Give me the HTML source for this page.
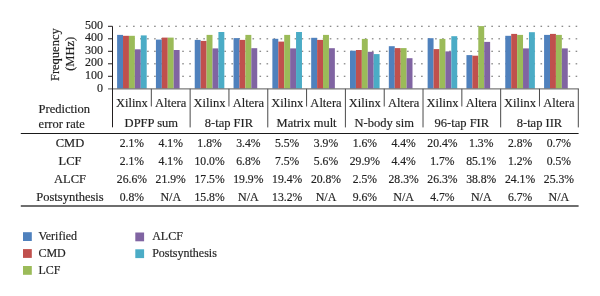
<!DOCTYPE html><html><head><meta charset="utf-8"><style>
html,body{margin:0;padding:0;background:#fff;}
svg{display:block;filter:blur(0.3px);}
text{font-family:"Liberation Serif",serif;font-size:12.5px;fill:#231F20;stroke:#231F20;stroke-width:0.18px;}
.n{font-size:11.7px;}
.na{font-size:12px;}
.y{font-size:12px;}
.lg{font-size:12px;}
</style></head><body>
<svg width="600" height="296" viewBox="0 0 600 296">
<rect width="600" height="296" fill="#fff"/>
<rect x="119.00" y="75.70" width="1.6" height="1.2" fill="#808080"/>
<rect x="126.03" y="75.70" width="1.6" height="1.2" fill="#808080"/>
<rect x="133.05" y="75.70" width="1.6" height="1.2" fill="#808080"/>
<rect x="140.07" y="75.70" width="1.6" height="1.2" fill="#808080"/>
<rect x="147.10" y="75.70" width="1.6" height="1.2" fill="#808080"/>
<rect x="154.12" y="75.70" width="1.6" height="1.2" fill="#808080"/>
<rect x="161.15" y="75.70" width="1.6" height="1.2" fill="#808080"/>
<rect x="168.17" y="75.70" width="1.6" height="1.2" fill="#808080"/>
<rect x="175.20" y="75.70" width="1.6" height="1.2" fill="#808080"/>
<rect x="182.22" y="75.70" width="1.6" height="1.2" fill="#808080"/>
<rect x="189.25" y="75.70" width="1.6" height="1.2" fill="#808080"/>
<rect x="196.27" y="75.70" width="1.6" height="1.2" fill="#808080"/>
<rect x="203.30" y="75.70" width="1.6" height="1.2" fill="#808080"/>
<rect x="210.32" y="75.70" width="1.6" height="1.2" fill="#808080"/>
<rect x="217.35" y="75.70" width="1.6" height="1.2" fill="#808080"/>
<rect x="224.38" y="75.70" width="1.6" height="1.2" fill="#808080"/>
<rect x="231.40" y="75.70" width="1.6" height="1.2" fill="#808080"/>
<rect x="238.43" y="75.70" width="1.6" height="1.2" fill="#808080"/>
<rect x="245.45" y="75.70" width="1.6" height="1.2" fill="#808080"/>
<rect x="252.47" y="75.70" width="1.6" height="1.2" fill="#808080"/>
<rect x="259.50" y="75.70" width="1.6" height="1.2" fill="#808080"/>
<rect x="266.52" y="75.70" width="1.6" height="1.2" fill="#808080"/>
<rect x="273.55" y="75.70" width="1.6" height="1.2" fill="#808080"/>
<rect x="280.57" y="75.70" width="1.6" height="1.2" fill="#808080"/>
<rect x="287.60" y="75.70" width="1.6" height="1.2" fill="#808080"/>
<rect x="294.62" y="75.70" width="1.6" height="1.2" fill="#808080"/>
<rect x="301.65" y="75.70" width="1.6" height="1.2" fill="#808080"/>
<rect x="308.68" y="75.70" width="1.6" height="1.2" fill="#808080"/>
<rect x="315.70" y="75.70" width="1.6" height="1.2" fill="#808080"/>
<rect x="322.73" y="75.70" width="1.6" height="1.2" fill="#808080"/>
<rect x="329.75" y="75.70" width="1.6" height="1.2" fill="#808080"/>
<rect x="336.77" y="75.70" width="1.6" height="1.2" fill="#808080"/>
<rect x="343.80" y="75.70" width="1.6" height="1.2" fill="#808080"/>
<rect x="350.82" y="75.70" width="1.6" height="1.2" fill="#808080"/>
<rect x="357.85" y="75.70" width="1.6" height="1.2" fill="#808080"/>
<rect x="364.88" y="75.70" width="1.6" height="1.2" fill="#808080"/>
<rect x="371.90" y="75.70" width="1.6" height="1.2" fill="#808080"/>
<rect x="378.93" y="75.70" width="1.6" height="1.2" fill="#808080"/>
<rect x="385.95" y="75.70" width="1.6" height="1.2" fill="#808080"/>
<rect x="392.98" y="75.70" width="1.6" height="1.2" fill="#808080"/>
<rect x="400.00" y="75.70" width="1.6" height="1.2" fill="#808080"/>
<rect x="407.03" y="75.70" width="1.6" height="1.2" fill="#808080"/>
<rect x="414.05" y="75.70" width="1.6" height="1.2" fill="#808080"/>
<rect x="421.07" y="75.70" width="1.6" height="1.2" fill="#808080"/>
<rect x="428.10" y="75.70" width="1.6" height="1.2" fill="#808080"/>
<rect x="435.12" y="75.70" width="1.6" height="1.2" fill="#808080"/>
<rect x="442.15" y="75.70" width="1.6" height="1.2" fill="#808080"/>
<rect x="449.18" y="75.70" width="1.6" height="1.2" fill="#808080"/>
<rect x="456.20" y="75.70" width="1.6" height="1.2" fill="#808080"/>
<rect x="463.23" y="75.70" width="1.6" height="1.2" fill="#808080"/>
<rect x="470.25" y="75.70" width="1.6" height="1.2" fill="#808080"/>
<rect x="477.28" y="75.70" width="1.6" height="1.2" fill="#808080"/>
<rect x="484.30" y="75.70" width="1.6" height="1.2" fill="#808080"/>
<rect x="491.33" y="75.70" width="1.6" height="1.2" fill="#808080"/>
<rect x="498.35" y="75.70" width="1.6" height="1.2" fill="#808080"/>
<rect x="505.38" y="75.70" width="1.6" height="1.2" fill="#808080"/>
<rect x="512.40" y="75.70" width="1.6" height="1.2" fill="#808080"/>
<rect x="519.43" y="75.70" width="1.6" height="1.2" fill="#808080"/>
<rect x="526.45" y="75.70" width="1.6" height="1.2" fill="#808080"/>
<rect x="533.48" y="75.70" width="1.6" height="1.2" fill="#808080"/>
<rect x="540.50" y="75.70" width="1.6" height="1.2" fill="#808080"/>
<rect x="547.53" y="75.70" width="1.6" height="1.2" fill="#808080"/>
<rect x="554.55" y="75.70" width="1.6" height="1.2" fill="#808080"/>
<rect x="561.58" y="75.70" width="1.6" height="1.2" fill="#808080"/>
<rect x="568.60" y="75.70" width="1.6" height="1.2" fill="#808080"/>
<rect x="575.62" y="75.70" width="1.6" height="1.2" fill="#808080"/>
<rect x="119.00" y="63.20" width="1.6" height="1.2" fill="#808080"/>
<rect x="126.03" y="63.20" width="1.6" height="1.2" fill="#808080"/>
<rect x="133.05" y="63.20" width="1.6" height="1.2" fill="#808080"/>
<rect x="140.07" y="63.20" width="1.6" height="1.2" fill="#808080"/>
<rect x="147.10" y="63.20" width="1.6" height="1.2" fill="#808080"/>
<rect x="154.12" y="63.20" width="1.6" height="1.2" fill="#808080"/>
<rect x="161.15" y="63.20" width="1.6" height="1.2" fill="#808080"/>
<rect x="168.17" y="63.20" width="1.6" height="1.2" fill="#808080"/>
<rect x="175.20" y="63.20" width="1.6" height="1.2" fill="#808080"/>
<rect x="182.22" y="63.20" width="1.6" height="1.2" fill="#808080"/>
<rect x="189.25" y="63.20" width="1.6" height="1.2" fill="#808080"/>
<rect x="196.27" y="63.20" width="1.6" height="1.2" fill="#808080"/>
<rect x="203.30" y="63.20" width="1.6" height="1.2" fill="#808080"/>
<rect x="210.32" y="63.20" width="1.6" height="1.2" fill="#808080"/>
<rect x="217.35" y="63.20" width="1.6" height="1.2" fill="#808080"/>
<rect x="224.38" y="63.20" width="1.6" height="1.2" fill="#808080"/>
<rect x="231.40" y="63.20" width="1.6" height="1.2" fill="#808080"/>
<rect x="238.43" y="63.20" width="1.6" height="1.2" fill="#808080"/>
<rect x="245.45" y="63.20" width="1.6" height="1.2" fill="#808080"/>
<rect x="252.47" y="63.20" width="1.6" height="1.2" fill="#808080"/>
<rect x="259.50" y="63.20" width="1.6" height="1.2" fill="#808080"/>
<rect x="266.52" y="63.20" width="1.6" height="1.2" fill="#808080"/>
<rect x="273.55" y="63.20" width="1.6" height="1.2" fill="#808080"/>
<rect x="280.57" y="63.20" width="1.6" height="1.2" fill="#808080"/>
<rect x="287.60" y="63.20" width="1.6" height="1.2" fill="#808080"/>
<rect x="294.62" y="63.20" width="1.6" height="1.2" fill="#808080"/>
<rect x="301.65" y="63.20" width="1.6" height="1.2" fill="#808080"/>
<rect x="308.68" y="63.20" width="1.6" height="1.2" fill="#808080"/>
<rect x="315.70" y="63.20" width="1.6" height="1.2" fill="#808080"/>
<rect x="322.73" y="63.20" width="1.6" height="1.2" fill="#808080"/>
<rect x="329.75" y="63.20" width="1.6" height="1.2" fill="#808080"/>
<rect x="336.77" y="63.20" width="1.6" height="1.2" fill="#808080"/>
<rect x="343.80" y="63.20" width="1.6" height="1.2" fill="#808080"/>
<rect x="350.82" y="63.20" width="1.6" height="1.2" fill="#808080"/>
<rect x="357.85" y="63.20" width="1.6" height="1.2" fill="#808080"/>
<rect x="364.88" y="63.20" width="1.6" height="1.2" fill="#808080"/>
<rect x="371.90" y="63.20" width="1.6" height="1.2" fill="#808080"/>
<rect x="378.93" y="63.20" width="1.6" height="1.2" fill="#808080"/>
<rect x="385.95" y="63.20" width="1.6" height="1.2" fill="#808080"/>
<rect x="392.98" y="63.20" width="1.6" height="1.2" fill="#808080"/>
<rect x="400.00" y="63.20" width="1.6" height="1.2" fill="#808080"/>
<rect x="407.03" y="63.20" width="1.6" height="1.2" fill="#808080"/>
<rect x="414.05" y="63.20" width="1.6" height="1.2" fill="#808080"/>
<rect x="421.07" y="63.20" width="1.6" height="1.2" fill="#808080"/>
<rect x="428.10" y="63.20" width="1.6" height="1.2" fill="#808080"/>
<rect x="435.12" y="63.20" width="1.6" height="1.2" fill="#808080"/>
<rect x="442.15" y="63.20" width="1.6" height="1.2" fill="#808080"/>
<rect x="449.18" y="63.20" width="1.6" height="1.2" fill="#808080"/>
<rect x="456.20" y="63.20" width="1.6" height="1.2" fill="#808080"/>
<rect x="463.23" y="63.20" width="1.6" height="1.2" fill="#808080"/>
<rect x="470.25" y="63.20" width="1.6" height="1.2" fill="#808080"/>
<rect x="477.28" y="63.20" width="1.6" height="1.2" fill="#808080"/>
<rect x="484.30" y="63.20" width="1.6" height="1.2" fill="#808080"/>
<rect x="491.33" y="63.20" width="1.6" height="1.2" fill="#808080"/>
<rect x="498.35" y="63.20" width="1.6" height="1.2" fill="#808080"/>
<rect x="505.38" y="63.20" width="1.6" height="1.2" fill="#808080"/>
<rect x="512.40" y="63.20" width="1.6" height="1.2" fill="#808080"/>
<rect x="519.43" y="63.20" width="1.6" height="1.2" fill="#808080"/>
<rect x="526.45" y="63.20" width="1.6" height="1.2" fill="#808080"/>
<rect x="533.48" y="63.20" width="1.6" height="1.2" fill="#808080"/>
<rect x="540.50" y="63.20" width="1.6" height="1.2" fill="#808080"/>
<rect x="547.53" y="63.20" width="1.6" height="1.2" fill="#808080"/>
<rect x="554.55" y="63.20" width="1.6" height="1.2" fill="#808080"/>
<rect x="561.58" y="63.20" width="1.6" height="1.2" fill="#808080"/>
<rect x="568.60" y="63.20" width="1.6" height="1.2" fill="#808080"/>
<rect x="575.62" y="63.20" width="1.6" height="1.2" fill="#808080"/>
<rect x="119.00" y="50.70" width="1.6" height="1.2" fill="#808080"/>
<rect x="126.03" y="50.70" width="1.6" height="1.2" fill="#808080"/>
<rect x="133.05" y="50.70" width="1.6" height="1.2" fill="#808080"/>
<rect x="140.07" y="50.70" width="1.6" height="1.2" fill="#808080"/>
<rect x="147.10" y="50.70" width="1.6" height="1.2" fill="#808080"/>
<rect x="154.12" y="50.70" width="1.6" height="1.2" fill="#808080"/>
<rect x="161.15" y="50.70" width="1.6" height="1.2" fill="#808080"/>
<rect x="168.17" y="50.70" width="1.6" height="1.2" fill="#808080"/>
<rect x="175.20" y="50.70" width="1.6" height="1.2" fill="#808080"/>
<rect x="182.22" y="50.70" width="1.6" height="1.2" fill="#808080"/>
<rect x="189.25" y="50.70" width="1.6" height="1.2" fill="#808080"/>
<rect x="196.27" y="50.70" width="1.6" height="1.2" fill="#808080"/>
<rect x="203.30" y="50.70" width="1.6" height="1.2" fill="#808080"/>
<rect x="210.32" y="50.70" width="1.6" height="1.2" fill="#808080"/>
<rect x="217.35" y="50.70" width="1.6" height="1.2" fill="#808080"/>
<rect x="224.38" y="50.70" width="1.6" height="1.2" fill="#808080"/>
<rect x="231.40" y="50.70" width="1.6" height="1.2" fill="#808080"/>
<rect x="238.43" y="50.70" width="1.6" height="1.2" fill="#808080"/>
<rect x="245.45" y="50.70" width="1.6" height="1.2" fill="#808080"/>
<rect x="252.47" y="50.70" width="1.6" height="1.2" fill="#808080"/>
<rect x="259.50" y="50.70" width="1.6" height="1.2" fill="#808080"/>
<rect x="266.52" y="50.70" width="1.6" height="1.2" fill="#808080"/>
<rect x="273.55" y="50.70" width="1.6" height="1.2" fill="#808080"/>
<rect x="280.57" y="50.70" width="1.6" height="1.2" fill="#808080"/>
<rect x="287.60" y="50.70" width="1.6" height="1.2" fill="#808080"/>
<rect x="294.62" y="50.70" width="1.6" height="1.2" fill="#808080"/>
<rect x="301.65" y="50.70" width="1.6" height="1.2" fill="#808080"/>
<rect x="308.68" y="50.70" width="1.6" height="1.2" fill="#808080"/>
<rect x="315.70" y="50.70" width="1.6" height="1.2" fill="#808080"/>
<rect x="322.73" y="50.70" width="1.6" height="1.2" fill="#808080"/>
<rect x="329.75" y="50.70" width="1.6" height="1.2" fill="#808080"/>
<rect x="336.77" y="50.70" width="1.6" height="1.2" fill="#808080"/>
<rect x="343.80" y="50.70" width="1.6" height="1.2" fill="#808080"/>
<rect x="350.82" y="50.70" width="1.6" height="1.2" fill="#808080"/>
<rect x="357.85" y="50.70" width="1.6" height="1.2" fill="#808080"/>
<rect x="364.88" y="50.70" width="1.6" height="1.2" fill="#808080"/>
<rect x="371.90" y="50.70" width="1.6" height="1.2" fill="#808080"/>
<rect x="378.93" y="50.70" width="1.6" height="1.2" fill="#808080"/>
<rect x="385.95" y="50.70" width="1.6" height="1.2" fill="#808080"/>
<rect x="392.98" y="50.70" width="1.6" height="1.2" fill="#808080"/>
<rect x="400.00" y="50.70" width="1.6" height="1.2" fill="#808080"/>
<rect x="407.03" y="50.70" width="1.6" height="1.2" fill="#808080"/>
<rect x="414.05" y="50.70" width="1.6" height="1.2" fill="#808080"/>
<rect x="421.07" y="50.70" width="1.6" height="1.2" fill="#808080"/>
<rect x="428.10" y="50.70" width="1.6" height="1.2" fill="#808080"/>
<rect x="435.12" y="50.70" width="1.6" height="1.2" fill="#808080"/>
<rect x="442.15" y="50.70" width="1.6" height="1.2" fill="#808080"/>
<rect x="449.18" y="50.70" width="1.6" height="1.2" fill="#808080"/>
<rect x="456.20" y="50.70" width="1.6" height="1.2" fill="#808080"/>
<rect x="463.23" y="50.70" width="1.6" height="1.2" fill="#808080"/>
<rect x="470.25" y="50.70" width="1.6" height="1.2" fill="#808080"/>
<rect x="477.28" y="50.70" width="1.6" height="1.2" fill="#808080"/>
<rect x="484.30" y="50.70" width="1.6" height="1.2" fill="#808080"/>
<rect x="491.33" y="50.70" width="1.6" height="1.2" fill="#808080"/>
<rect x="498.35" y="50.70" width="1.6" height="1.2" fill="#808080"/>
<rect x="505.38" y="50.70" width="1.6" height="1.2" fill="#808080"/>
<rect x="512.40" y="50.70" width="1.6" height="1.2" fill="#808080"/>
<rect x="519.43" y="50.70" width="1.6" height="1.2" fill="#808080"/>
<rect x="526.45" y="50.70" width="1.6" height="1.2" fill="#808080"/>
<rect x="533.48" y="50.70" width="1.6" height="1.2" fill="#808080"/>
<rect x="540.50" y="50.70" width="1.6" height="1.2" fill="#808080"/>
<rect x="547.53" y="50.70" width="1.6" height="1.2" fill="#808080"/>
<rect x="554.55" y="50.70" width="1.6" height="1.2" fill="#808080"/>
<rect x="561.58" y="50.70" width="1.6" height="1.2" fill="#808080"/>
<rect x="568.60" y="50.70" width="1.6" height="1.2" fill="#808080"/>
<rect x="575.62" y="50.70" width="1.6" height="1.2" fill="#808080"/>
<rect x="119.00" y="38.20" width="1.6" height="1.2" fill="#808080"/>
<rect x="126.03" y="38.20" width="1.6" height="1.2" fill="#808080"/>
<rect x="133.05" y="38.20" width="1.6" height="1.2" fill="#808080"/>
<rect x="140.07" y="38.20" width="1.6" height="1.2" fill="#808080"/>
<rect x="147.10" y="38.20" width="1.6" height="1.2" fill="#808080"/>
<rect x="154.12" y="38.20" width="1.6" height="1.2" fill="#808080"/>
<rect x="161.15" y="38.20" width="1.6" height="1.2" fill="#808080"/>
<rect x="168.17" y="38.20" width="1.6" height="1.2" fill="#808080"/>
<rect x="175.20" y="38.20" width="1.6" height="1.2" fill="#808080"/>
<rect x="182.22" y="38.20" width="1.6" height="1.2" fill="#808080"/>
<rect x="189.25" y="38.20" width="1.6" height="1.2" fill="#808080"/>
<rect x="196.27" y="38.20" width="1.6" height="1.2" fill="#808080"/>
<rect x="203.30" y="38.20" width="1.6" height="1.2" fill="#808080"/>
<rect x="210.32" y="38.20" width="1.6" height="1.2" fill="#808080"/>
<rect x="217.35" y="38.20" width="1.6" height="1.2" fill="#808080"/>
<rect x="224.38" y="38.20" width="1.6" height="1.2" fill="#808080"/>
<rect x="231.40" y="38.20" width="1.6" height="1.2" fill="#808080"/>
<rect x="238.43" y="38.20" width="1.6" height="1.2" fill="#808080"/>
<rect x="245.45" y="38.20" width="1.6" height="1.2" fill="#808080"/>
<rect x="252.47" y="38.20" width="1.6" height="1.2" fill="#808080"/>
<rect x="259.50" y="38.20" width="1.6" height="1.2" fill="#808080"/>
<rect x="266.52" y="38.20" width="1.6" height="1.2" fill="#808080"/>
<rect x="273.55" y="38.20" width="1.6" height="1.2" fill="#808080"/>
<rect x="280.57" y="38.20" width="1.6" height="1.2" fill="#808080"/>
<rect x="287.60" y="38.20" width="1.6" height="1.2" fill="#808080"/>
<rect x="294.62" y="38.20" width="1.6" height="1.2" fill="#808080"/>
<rect x="301.65" y="38.20" width="1.6" height="1.2" fill="#808080"/>
<rect x="308.68" y="38.20" width="1.6" height="1.2" fill="#808080"/>
<rect x="315.70" y="38.20" width="1.6" height="1.2" fill="#808080"/>
<rect x="322.73" y="38.20" width="1.6" height="1.2" fill="#808080"/>
<rect x="329.75" y="38.20" width="1.6" height="1.2" fill="#808080"/>
<rect x="336.77" y="38.20" width="1.6" height="1.2" fill="#808080"/>
<rect x="343.80" y="38.20" width="1.6" height="1.2" fill="#808080"/>
<rect x="350.82" y="38.20" width="1.6" height="1.2" fill="#808080"/>
<rect x="357.85" y="38.20" width="1.6" height="1.2" fill="#808080"/>
<rect x="364.88" y="38.20" width="1.6" height="1.2" fill="#808080"/>
<rect x="371.90" y="38.20" width="1.6" height="1.2" fill="#808080"/>
<rect x="378.93" y="38.20" width="1.6" height="1.2" fill="#808080"/>
<rect x="385.95" y="38.20" width="1.6" height="1.2" fill="#808080"/>
<rect x="392.98" y="38.20" width="1.6" height="1.2" fill="#808080"/>
<rect x="400.00" y="38.20" width="1.6" height="1.2" fill="#808080"/>
<rect x="407.03" y="38.20" width="1.6" height="1.2" fill="#808080"/>
<rect x="414.05" y="38.20" width="1.6" height="1.2" fill="#808080"/>
<rect x="421.07" y="38.20" width="1.6" height="1.2" fill="#808080"/>
<rect x="428.10" y="38.20" width="1.6" height="1.2" fill="#808080"/>
<rect x="435.12" y="38.20" width="1.6" height="1.2" fill="#808080"/>
<rect x="442.15" y="38.20" width="1.6" height="1.2" fill="#808080"/>
<rect x="449.18" y="38.20" width="1.6" height="1.2" fill="#808080"/>
<rect x="456.20" y="38.20" width="1.6" height="1.2" fill="#808080"/>
<rect x="463.23" y="38.20" width="1.6" height="1.2" fill="#808080"/>
<rect x="470.25" y="38.20" width="1.6" height="1.2" fill="#808080"/>
<rect x="477.28" y="38.20" width="1.6" height="1.2" fill="#808080"/>
<rect x="484.30" y="38.20" width="1.6" height="1.2" fill="#808080"/>
<rect x="491.33" y="38.20" width="1.6" height="1.2" fill="#808080"/>
<rect x="498.35" y="38.20" width="1.6" height="1.2" fill="#808080"/>
<rect x="505.38" y="38.20" width="1.6" height="1.2" fill="#808080"/>
<rect x="512.40" y="38.20" width="1.6" height="1.2" fill="#808080"/>
<rect x="519.43" y="38.20" width="1.6" height="1.2" fill="#808080"/>
<rect x="526.45" y="38.20" width="1.6" height="1.2" fill="#808080"/>
<rect x="533.48" y="38.20" width="1.6" height="1.2" fill="#808080"/>
<rect x="540.50" y="38.20" width="1.6" height="1.2" fill="#808080"/>
<rect x="547.53" y="38.20" width="1.6" height="1.2" fill="#808080"/>
<rect x="554.55" y="38.20" width="1.6" height="1.2" fill="#808080"/>
<rect x="561.58" y="38.20" width="1.6" height="1.2" fill="#808080"/>
<rect x="568.60" y="38.20" width="1.6" height="1.2" fill="#808080"/>
<rect x="575.62" y="38.20" width="1.6" height="1.2" fill="#808080"/>
<rect x="119.00" y="25.70" width="1.6" height="1.2" fill="#808080"/>
<rect x="126.03" y="25.70" width="1.6" height="1.2" fill="#808080"/>
<rect x="133.05" y="25.70" width="1.6" height="1.2" fill="#808080"/>
<rect x="140.07" y="25.70" width="1.6" height="1.2" fill="#808080"/>
<rect x="147.10" y="25.70" width="1.6" height="1.2" fill="#808080"/>
<rect x="154.12" y="25.70" width="1.6" height="1.2" fill="#808080"/>
<rect x="161.15" y="25.70" width="1.6" height="1.2" fill="#808080"/>
<rect x="168.17" y="25.70" width="1.6" height="1.2" fill="#808080"/>
<rect x="175.20" y="25.70" width="1.6" height="1.2" fill="#808080"/>
<rect x="182.22" y="25.70" width="1.6" height="1.2" fill="#808080"/>
<rect x="189.25" y="25.70" width="1.6" height="1.2" fill="#808080"/>
<rect x="196.27" y="25.70" width="1.6" height="1.2" fill="#808080"/>
<rect x="203.30" y="25.70" width="1.6" height="1.2" fill="#808080"/>
<rect x="210.32" y="25.70" width="1.6" height="1.2" fill="#808080"/>
<rect x="217.35" y="25.70" width="1.6" height="1.2" fill="#808080"/>
<rect x="224.38" y="25.70" width="1.6" height="1.2" fill="#808080"/>
<rect x="231.40" y="25.70" width="1.6" height="1.2" fill="#808080"/>
<rect x="238.43" y="25.70" width="1.6" height="1.2" fill="#808080"/>
<rect x="245.45" y="25.70" width="1.6" height="1.2" fill="#808080"/>
<rect x="252.47" y="25.70" width="1.6" height="1.2" fill="#808080"/>
<rect x="259.50" y="25.70" width="1.6" height="1.2" fill="#808080"/>
<rect x="266.52" y="25.70" width="1.6" height="1.2" fill="#808080"/>
<rect x="273.55" y="25.70" width="1.6" height="1.2" fill="#808080"/>
<rect x="280.57" y="25.70" width="1.6" height="1.2" fill="#808080"/>
<rect x="287.60" y="25.70" width="1.6" height="1.2" fill="#808080"/>
<rect x="294.62" y="25.70" width="1.6" height="1.2" fill="#808080"/>
<rect x="301.65" y="25.70" width="1.6" height="1.2" fill="#808080"/>
<rect x="308.68" y="25.70" width="1.6" height="1.2" fill="#808080"/>
<rect x="315.70" y="25.70" width="1.6" height="1.2" fill="#808080"/>
<rect x="322.73" y="25.70" width="1.6" height="1.2" fill="#808080"/>
<rect x="329.75" y="25.70" width="1.6" height="1.2" fill="#808080"/>
<rect x="336.77" y="25.70" width="1.6" height="1.2" fill="#808080"/>
<rect x="343.80" y="25.70" width="1.6" height="1.2" fill="#808080"/>
<rect x="350.82" y="25.70" width="1.6" height="1.2" fill="#808080"/>
<rect x="357.85" y="25.70" width="1.6" height="1.2" fill="#808080"/>
<rect x="364.88" y="25.70" width="1.6" height="1.2" fill="#808080"/>
<rect x="371.90" y="25.70" width="1.6" height="1.2" fill="#808080"/>
<rect x="378.93" y="25.70" width="1.6" height="1.2" fill="#808080"/>
<rect x="385.95" y="25.70" width="1.6" height="1.2" fill="#808080"/>
<rect x="392.98" y="25.70" width="1.6" height="1.2" fill="#808080"/>
<rect x="400.00" y="25.70" width="1.6" height="1.2" fill="#808080"/>
<rect x="407.03" y="25.70" width="1.6" height="1.2" fill="#808080"/>
<rect x="414.05" y="25.70" width="1.6" height="1.2" fill="#808080"/>
<rect x="421.07" y="25.70" width="1.6" height="1.2" fill="#808080"/>
<rect x="428.10" y="25.70" width="1.6" height="1.2" fill="#808080"/>
<rect x="435.12" y="25.70" width="1.6" height="1.2" fill="#808080"/>
<rect x="442.15" y="25.70" width="1.6" height="1.2" fill="#808080"/>
<rect x="449.18" y="25.70" width="1.6" height="1.2" fill="#808080"/>
<rect x="456.20" y="25.70" width="1.6" height="1.2" fill="#808080"/>
<rect x="463.23" y="25.70" width="1.6" height="1.2" fill="#808080"/>
<rect x="470.25" y="25.70" width="1.6" height="1.2" fill="#808080"/>
<rect x="477.28" y="25.70" width="1.6" height="1.2" fill="#808080"/>
<rect x="484.30" y="25.70" width="1.6" height="1.2" fill="#808080"/>
<rect x="491.33" y="25.70" width="1.6" height="1.2" fill="#808080"/>
<rect x="498.35" y="25.70" width="1.6" height="1.2" fill="#808080"/>
<rect x="505.38" y="25.70" width="1.6" height="1.2" fill="#808080"/>
<rect x="512.40" y="25.70" width="1.6" height="1.2" fill="#808080"/>
<rect x="519.43" y="25.70" width="1.6" height="1.2" fill="#808080"/>
<rect x="526.45" y="25.70" width="1.6" height="1.2" fill="#808080"/>
<rect x="533.48" y="25.70" width="1.6" height="1.2" fill="#808080"/>
<rect x="540.50" y="25.70" width="1.6" height="1.2" fill="#808080"/>
<rect x="547.53" y="25.70" width="1.6" height="1.2" fill="#808080"/>
<rect x="554.55" y="25.70" width="1.6" height="1.2" fill="#808080"/>
<rect x="561.58" y="25.70" width="1.6" height="1.2" fill="#808080"/>
<rect x="568.60" y="25.70" width="1.6" height="1.2" fill="#808080"/>
<rect x="575.62" y="25.70" width="1.6" height="1.2" fill="#808080"/>
<rect x="117.10" y="34.90" width="5.92" height="53.90" fill="#4F81BD"/>
<rect x="123.02" y="35.80" width="5.92" height="53.00" fill="#C0504D"/>
<rect x="128.94" y="35.80" width="5.92" height="53.00" fill="#9BBB59"/>
<rect x="134.86" y="49.30" width="5.92" height="39.50" fill="#8064A2"/>
<rect x="140.78" y="35.40" width="5.92" height="53.40" fill="#4BACC6"/>
<rect x="155.92" y="39.60" width="5.92" height="49.20" fill="#4F81BD"/>
<rect x="161.84" y="37.60" width="5.92" height="51.20" fill="#C0504D"/>
<rect x="167.76" y="37.60" width="5.92" height="51.20" fill="#9BBB59"/>
<rect x="173.68" y="50.00" width="5.92" height="38.80" fill="#8064A2"/>
<rect x="194.73" y="39.90" width="5.92" height="48.90" fill="#4F81BD"/>
<rect x="200.65" y="40.90" width="5.92" height="47.90" fill="#C0504D"/>
<rect x="206.57" y="34.90" width="5.92" height="53.90" fill="#9BBB59"/>
<rect x="212.49" y="48.40" width="5.92" height="40.40" fill="#8064A2"/>
<rect x="218.41" y="32.00" width="5.92" height="56.80" fill="#4BACC6"/>
<rect x="233.55" y="38.10" width="5.92" height="50.70" fill="#4F81BD"/>
<rect x="239.47" y="39.90" width="5.92" height="48.90" fill="#C0504D"/>
<rect x="245.39" y="34.90" width="5.92" height="53.90" fill="#9BBB59"/>
<rect x="251.31" y="48.20" width="5.92" height="40.60" fill="#8064A2"/>
<rect x="272.37" y="38.80" width="5.92" height="50.00" fill="#4F81BD"/>
<rect x="278.29" y="41.60" width="5.92" height="47.20" fill="#C0504D"/>
<rect x="284.21" y="34.90" width="5.92" height="53.90" fill="#9BBB59"/>
<rect x="290.13" y="48.40" width="5.92" height="40.40" fill="#8064A2"/>
<rect x="296.05" y="32.00" width="5.92" height="56.80" fill="#4BACC6"/>
<rect x="311.18" y="37.80" width="5.92" height="51.00" fill="#4F81BD"/>
<rect x="317.10" y="39.90" width="5.92" height="48.90" fill="#C0504D"/>
<rect x="323.02" y="34.90" width="5.92" height="53.90" fill="#9BBB59"/>
<rect x="328.94" y="48.20" width="5.92" height="40.60" fill="#8064A2"/>
<rect x="350.00" y="50.70" width="5.92" height="38.10" fill="#4F81BD"/>
<rect x="355.92" y="50.00" width="5.92" height="38.80" fill="#C0504D"/>
<rect x="361.84" y="38.90" width="5.92" height="49.90" fill="#9BBB59"/>
<rect x="367.76" y="51.80" width="5.92" height="37.00" fill="#8064A2"/>
<rect x="373.68" y="54.10" width="5.92" height="34.70" fill="#4BACC6"/>
<rect x="388.82" y="46.20" width="5.92" height="42.60" fill="#4F81BD"/>
<rect x="394.74" y="48.10" width="5.92" height="40.70" fill="#C0504D"/>
<rect x="400.66" y="48.10" width="5.92" height="40.70" fill="#9BBB59"/>
<rect x="406.58" y="58.20" width="5.92" height="30.60" fill="#8064A2"/>
<rect x="427.63" y="38.20" width="5.92" height="50.60" fill="#4F81BD"/>
<rect x="433.55" y="49.10" width="5.92" height="39.70" fill="#C0504D"/>
<rect x="439.47" y="38.90" width="5.92" height="49.90" fill="#9BBB59"/>
<rect x="445.39" y="51.40" width="5.92" height="37.40" fill="#8064A2"/>
<rect x="451.31" y="36.20" width="5.92" height="52.60" fill="#4BACC6"/>
<rect x="466.45" y="55.10" width="5.92" height="33.70" fill="#4F81BD"/>
<rect x="472.37" y="55.70" width="5.92" height="33.10" fill="#C0504D"/>
<rect x="478.29" y="26.10" width="5.92" height="62.70" fill="#9BBB59"/>
<rect x="484.21" y="41.90" width="5.92" height="46.90" fill="#8064A2"/>
<rect x="505.27" y="35.80" width="5.92" height="53.00" fill="#4F81BD"/>
<rect x="511.19" y="33.90" width="5.92" height="54.90" fill="#C0504D"/>
<rect x="517.11" y="34.90" width="5.92" height="53.90" fill="#9BBB59"/>
<rect x="523.03" y="48.40" width="5.92" height="40.40" fill="#8064A2"/>
<rect x="528.95" y="32.20" width="5.92" height="56.60" fill="#4BACC6"/>
<rect x="544.08" y="34.90" width="5.92" height="53.90" fill="#4F81BD"/>
<rect x="550.00" y="33.90" width="5.92" height="54.90" fill="#C0504D"/>
<rect x="555.92" y="34.90" width="5.92" height="53.90" fill="#9BBB59"/>
<rect x="561.84" y="48.40" width="5.92" height="40.40" fill="#8064A2"/>
<line x1="108" y1="88.80" x2="578.80" y2="88.80" stroke="#7a7a7a" stroke-width="1.2"/>
<line x1="108" y1="76.30" x2="112.50" y2="76.30" stroke="#231F20" stroke-width="1"/>
<line x1="108" y1="63.80" x2="112.50" y2="63.80" stroke="#231F20" stroke-width="1"/>
<line x1="108" y1="51.30" x2="112.50" y2="51.30" stroke="#231F20" stroke-width="1"/>
<line x1="108" y1="38.80" x2="112.50" y2="38.80" stroke="#231F20" stroke-width="1"/>
<line x1="108" y1="26.30" x2="112.50" y2="26.30" stroke="#231F20" stroke-width="1"/>
<line x1="112.50" y1="26.30" x2="112.50" y2="127.3" stroke="#231F20" stroke-width="1"/>
<line x1="151.32" y1="88.80" x2="151.32" y2="106.5" stroke="#4a4a4a" stroke-width="1"/>
<line x1="190.13" y1="88.80" x2="190.13" y2="127.4" stroke="#4a4a4a" stroke-width="1"/>
<line x1="228.95" y1="88.80" x2="228.95" y2="106.5" stroke="#4a4a4a" stroke-width="1"/>
<line x1="267.77" y1="88.80" x2="267.77" y2="127.4" stroke="#4a4a4a" stroke-width="1"/>
<line x1="306.58" y1="88.80" x2="306.58" y2="106.5" stroke="#4a4a4a" stroke-width="1"/>
<line x1="345.40" y1="88.80" x2="345.40" y2="127.4" stroke="#4a4a4a" stroke-width="1"/>
<line x1="384.22" y1="88.80" x2="384.22" y2="106.5" stroke="#4a4a4a" stroke-width="1"/>
<line x1="423.03" y1="88.80" x2="423.03" y2="127.4" stroke="#4a4a4a" stroke-width="1"/>
<line x1="461.85" y1="88.80" x2="461.85" y2="106.5" stroke="#4a4a4a" stroke-width="1"/>
<line x1="500.67" y1="88.80" x2="500.67" y2="127.4" stroke="#4a4a4a" stroke-width="1"/>
<line x1="539.48" y1="88.80" x2="539.48" y2="106.5" stroke="#4a4a4a" stroke-width="1"/>
<line x1="578.30" y1="88.80" x2="578.30" y2="127.4" stroke="#4a4a4a" stroke-width="1"/>
<line x1="20.8" y1="133.45" x2="578.6" y2="133.45" stroke="#1a1a1a" stroke-width="1.1"/>
<line x1="20.8" y1="206" x2="578.6" y2="206" stroke="#6e6e6e" stroke-width="1.8"/>
<rect x="23.00" y="232.20" width="8.8" height="8.8" fill="#4F81BD"/>
<rect x="23.00" y="249.10" width="8.8" height="8.8" fill="#C0504D"/>
<rect x="23.00" y="266.00" width="8.8" height="8.8" fill="#9BBB59"/>
<rect x="135.30" y="232.50" width="8.8" height="8.8" fill="#8064A2"/>
<rect x="135.30" y="249.30" width="8.8" height="8.8" fill="#4BACC6"/>
<defs><filter id="gs" x="0" y="0" width="100%" height="100%" color-interpolation-filters="sRGB"><feColorMatrix type="saturate" values="0"/></filter></defs>
<g filter="url(#gs)">
<text class="y" x="103" y="91.90" text-anchor="end">0</text>
<text class="y" x="103" y="78.80" text-anchor="end">100</text>
<text class="y" x="103" y="66.30" text-anchor="end">200</text>
<text class="y" x="103" y="53.80" text-anchor="end">300</text>
<text class="y" x="103" y="41.30" text-anchor="end">400</text>
<text class="y" x="103" y="28.80" text-anchor="end">500</text>
<text transform="translate(59.4,54.7) rotate(-90)" text-anchor="middle">Frequency</text>
<text transform="translate(74,53.8) rotate(-90)" text-anchor="middle">(MHz)</text>
<text x="131.91" y="106.6" text-anchor="middle">Xilinx</text>
<text x="170.72" y="106.6" text-anchor="middle">Altera</text>
<text x="209.54" y="106.6" text-anchor="middle">Xilinx</text>
<text x="248.36" y="106.6" text-anchor="middle">Altera</text>
<text x="287.17" y="106.6" text-anchor="middle">Xilinx</text>
<text x="325.99" y="106.6" text-anchor="middle">Altera</text>
<text x="364.81" y="106.6" text-anchor="middle">Xilinx</text>
<text x="403.62" y="106.6" text-anchor="middle">Altera</text>
<text x="442.44" y="106.6" text-anchor="middle">Xilinx</text>
<text x="481.26" y="106.6" text-anchor="middle">Altera</text>
<text x="520.07" y="106.6" text-anchor="middle">Xilinx</text>
<text x="558.89" y="106.6" text-anchor="middle">Altera</text>
<text x="151.32" y="126.6" text-anchor="middle">DPFP sum</text>
<text x="228.95" y="126.6" text-anchor="middle">8-tap FIR</text>
<text x="306.58" y="126.6" text-anchor="middle">Matrix mult</text>
<text x="384.22" y="126.6" text-anchor="middle">N-body sim</text>
<text x="461.85" y="126.6" text-anchor="middle">96-tap FIR</text>
<text x="539.48" y="126.6" text-anchor="middle">8-tap IIR</text>
<text x="38.6" y="113.3">Prediction</text>
<text x="38.6" y="127.5">error rate</text>
<text x="70" y="147.20" text-anchor="middle">CMD</text>
<text class="n" x="131.91" y="147.20" text-anchor="middle">2.1%</text>
<text class="n" x="170.72" y="147.20" text-anchor="middle">4.1%</text>
<text class="n" x="209.54" y="147.20" text-anchor="middle">1.8%</text>
<text class="n" x="248.36" y="147.20" text-anchor="middle">3.4%</text>
<text class="n" x="287.17" y="147.20" text-anchor="middle">5.5%</text>
<text class="n" x="325.99" y="147.20" text-anchor="middle">3.9%</text>
<text class="n" x="364.81" y="147.20" text-anchor="middle">1.6%</text>
<text class="n" x="403.62" y="147.20" text-anchor="middle">4.4%</text>
<text class="n" x="442.44" y="147.20" text-anchor="middle">20.4%</text>
<text class="n" x="481.26" y="147.20" text-anchor="middle">1.3%</text>
<text class="n" x="520.07" y="147.20" text-anchor="middle">2.8%</text>
<text class="n" x="558.89" y="147.20" text-anchor="middle">0.7%</text>
<text x="70" y="164.90" text-anchor="middle">LCF</text>
<text class="n" x="131.91" y="164.90" text-anchor="middle">2.1%</text>
<text class="n" x="170.72" y="164.90" text-anchor="middle">4.1%</text>
<text class="n" x="209.54" y="164.90" text-anchor="middle">10.0%</text>
<text class="n" x="248.36" y="164.90" text-anchor="middle">6.8%</text>
<text class="n" x="287.17" y="164.90" text-anchor="middle">7.5%</text>
<text class="n" x="325.99" y="164.90" text-anchor="middle">5.6%</text>
<text class="n" x="364.81" y="164.90" text-anchor="middle">29.9%</text>
<text class="n" x="403.62" y="164.90" text-anchor="middle">4.4%</text>
<text class="n" x="442.44" y="164.90" text-anchor="middle">1.7%</text>
<text class="n" x="481.26" y="164.90" text-anchor="middle">85.1%</text>
<text class="n" x="520.07" y="164.90" text-anchor="middle">1.2%</text>
<text class="n" x="558.89" y="164.90" text-anchor="middle">0.5%</text>
<text x="70" y="182.70" text-anchor="middle">ALCF</text>
<text class="n" x="131.91" y="182.70" text-anchor="middle">26.6%</text>
<text class="n" x="170.72" y="182.70" text-anchor="middle">21.9%</text>
<text class="n" x="209.54" y="182.70" text-anchor="middle">17.5%</text>
<text class="n" x="248.36" y="182.70" text-anchor="middle">19.9%</text>
<text class="n" x="287.17" y="182.70" text-anchor="middle">19.4%</text>
<text class="n" x="325.99" y="182.70" text-anchor="middle">20.8%</text>
<text class="n" x="364.81" y="182.70" text-anchor="middle">2.5%</text>
<text class="n" x="403.62" y="182.70" text-anchor="middle">28.3%</text>
<text class="n" x="442.44" y="182.70" text-anchor="middle">26.3%</text>
<text class="n" x="481.26" y="182.70" text-anchor="middle">38.8%</text>
<text class="n" x="520.07" y="182.70" text-anchor="middle">24.1%</text>
<text class="n" x="558.89" y="182.70" text-anchor="middle">25.3%</text>
<text x="70" y="200.50" text-anchor="middle">Postsynthesis</text>
<text class="n" x="131.91" y="200.50" text-anchor="middle">0.8%</text>
<text class="na" x="170.72" y="200.50" text-anchor="middle">N/A</text>
<text class="n" x="209.54" y="200.50" text-anchor="middle">15.8%</text>
<text class="na" x="248.36" y="200.50" text-anchor="middle">N/A</text>
<text class="n" x="287.17" y="200.50" text-anchor="middle">13.2%</text>
<text class="na" x="325.99" y="200.50" text-anchor="middle">N/A</text>
<text class="n" x="364.81" y="200.50" text-anchor="middle">9.6%</text>
<text class="na" x="403.62" y="200.50" text-anchor="middle">N/A</text>
<text class="n" x="442.44" y="200.50" text-anchor="middle">4.7%</text>
<text class="na" x="481.26" y="200.50" text-anchor="middle">N/A</text>
<text class="n" x="520.07" y="200.50" text-anchor="middle">6.7%</text>
<text class="na" x="558.89" y="200.50" text-anchor="middle">N/A</text>
<text class="lg" x="38.40" y="240.20">Verified</text>
<text class="lg" x="38.40" y="257.10">CMD</text>
<text class="lg" x="38.40" y="274.00">LCF</text>
<text class="lg" x="152.20" y="240.30">ALCF</text>
<text class="lg" x="152.20" y="257.20">Postsynthesis</text>
</g>
</svg></body></html>
